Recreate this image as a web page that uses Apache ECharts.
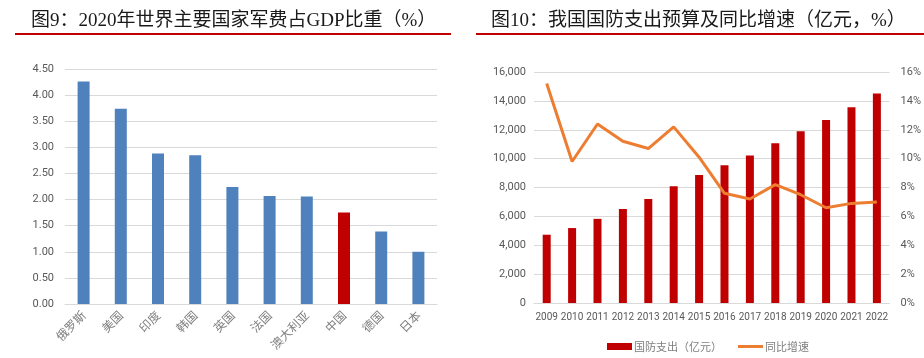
<!DOCTYPE html>
<html>
<head>
<meta charset="utf-8">
<script src="https://cdn.jsdelivr.net/npm/echarts@6/dist/echarts.min.js"></script>
<style>
html,body{margin:0;padding:0;background:#fff;}
#c{width:924px;height:358px;}
</style>
</head>
<body>
<div id="c"></div>
<script>
// ---- data ----
const countries = ['俄罗斯','美国','印度','韩国','英国','法国','澳大利亚','中国','德国','日本'];
const gdpShare = [4.26, 3.74, 2.88, 2.85, 2.24, 2.07, 2.06, 1.75, 1.39, 1.00];
const leftTicks = [0, 0.5, 1, 1.5, 2, 2.5, 3, 3.5, 4, 4.5];

const years = ['2009','2010','2011','2012','2013','2014','2015','2016','2017','2018','2019','2020','2021','2022'];
const budget = [4729, 5191, 5829, 6503, 7202, 8082, 8869, 9544, 10211, 11070, 11899, 12680, 13553, 14505];
const growth = [15.2, 9.8, 12.4, 11.2, 10.7, 12.2, 10.1, 7.6, 7.2, 8.2, 7.5, 6.6, 6.9, 7.0];

const titleFont = "'Liberation Serif','Noto Sans CJK SC',serif";
const cjkFont = "'Noto Sans CJK SC',sans-serif";
const numFont = "Roboto,'Noto Sans',sans-serif";
const labelColor = '#595959';
const gridColor = '#d9d9d9';

const legendText = {fontFamily: cjkFont, fontSize: 11, color: '#7f7f7f', padding: [0,0,0,-3]};

const chart = echarts.init(document.getElementById('c'), null, {renderer:'canvas'});
chart.setOption({
  animation: false,
  backgroundColor: '#fff',
  title: [
    {text: '图9：2020年世界主要国家军费占GDP比重（%）', left: 26, top: 7,
     textStyle: {fontFamily: titleFont, fontSize: 19, fontWeight: 'normal', color: '#1a1a1a'}},
    {text: '图10：我国国防支出预算及同比增速（亿元，%）', left: 486, top: 7,
     textStyle: {fontFamily: titleFont, fontSize: 19, fontWeight: 'normal', color: '#1a1a1a'}}
  ],
  graphic: [
    {type: 'rect', shape: {x: 15, y: 33, width: 436, height: 2}, style: {fill: '#C00000'}},
    {type: 'rect', shape: {x: 476, y: 33, width: 448, height: 2}, style: {fill: '#C00000'}}
  ],
  legend: [
    {left: 602, top: 336, padding: 5, itemWidth: 25, itemHeight: 7,
     textStyle: legendText,
     data: [{name: '国防支出（亿元）', icon: 'rect'}]},
    {left: 733, top: 336, padding: 5, itemWidth: 25, itemHeight: 3,
     textStyle: legendText,
     data: [{name: '同比增速', icon: 'rect'}]}
  ],
  grid: [
    {left: 65, top: 69, width: 372, height: 235},
    {left: 534, top: 72, width: 357, height: 231}
  ],
  xAxis: [
    {type: 'category', gridIndex: 0, data: countries,
     axisLine: {lineStyle: {color: gridColor}}, axisTick: {show: false},
     axisLabel: {rotate: 45, interval: 0, margin: 9, fontFamily: cjkFont, fontSize: 12, color: '#7f7f7f'}},
    {type: 'category', gridIndex: 1, data: years,
     axisLine: {lineStyle: {color: gridColor}}, axisTick: {show: false},
     axisLabel: {interval: 0, margin: 9, fontFamily: numFont, fontSize: 10, color: labelColor}}
  ],
  yAxis: [
    {type: 'value', gridIndex: 0, min: leftTicks[0], max: leftTicks[leftTicks.length-1], interval: 0.5,
     axisLine: {show: false}, axisTick: {show: false},
     splitLine: {lineStyle: {color: gridColor}},
     axisLabel: {margin: 11, fontFamily: numFont, fontSize: 11, color: labelColor,
                 formatter: v => v.toFixed(2)}},
    {type: 'value', gridIndex: 1, min: 0, max: 16000, interval: 2000,
     axisLine: {show: false}, axisTick: {show: false},
     splitLine: {lineStyle: {color: gridColor}},
     axisLabel: {margin: 8, fontFamily: numFont, fontSize: 11, color: labelColor,
                 formatter: v => v.toLocaleString('en-US')}},
    {type: 'value', gridIndex: 1, min: 0, max: 16, interval: 2, position: 'right',
     axisLine: {show: false}, axisTick: {show: false}, splitLine: {show: false},
     axisLabel: {margin: 11, fontFamily: numFont, fontSize: 11, color: labelColor,
                 formatter: '{value}%'}}
  ],
  series: [
    {type: 'bar', xAxisIndex: 0, yAxisIndex: 0, barWidth: 12,
     itemStyle: {color: '#4F81BD'},
     data: gdpShare.map((v, i) => countries[i] === '中国' ? {value: v, itemStyle: {color: '#C00000'}} : v)},
    {name: '国防支出（亿元）', type: 'bar', xAxisIndex: 1, yAxisIndex: 1, barWidth: 8,
     itemStyle: {color: '#C00000'}, data: budget},
    {name: '同比增速', type: 'line', xAxisIndex: 1, yAxisIndex: 2, symbol: 'none',
     lineStyle: {color: '#ED7D31', width: 3}, itemStyle: {color: '#ED7D31'}, data: growth}
  ]
});
</script>
</body>
</html>
